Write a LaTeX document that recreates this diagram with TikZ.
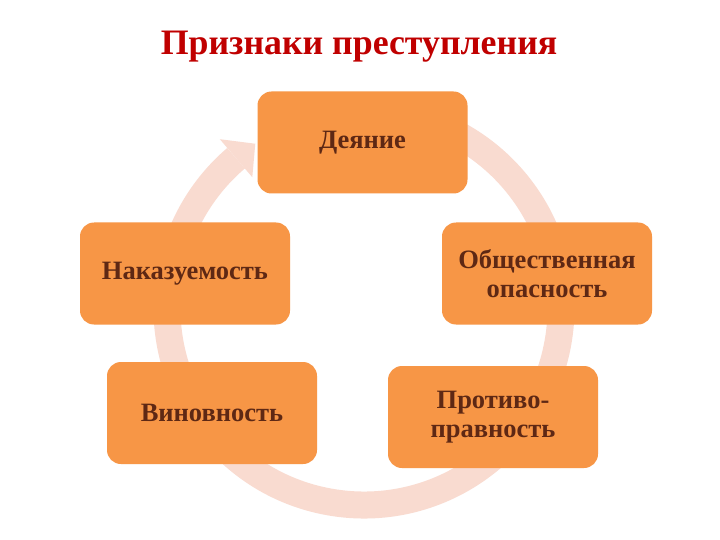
\documentclass[tikz,border=0pt]{standalone}
\usepackage{fontspec}
\setmainfont{Liberation Serif}
\definecolor{boxc}{HTML}{F79646}
\definecolor{ringc}{HTML}{F9DBD0}
\definecolor{txtc}{HTML}{5E2814}
\definecolor{titlec}{HTML}{C00000}
\begin{document}
\begin{tikzpicture}[x=1pt,y=-1pt,
  stagebox/.style={rounded corners=14pt, fill=boxc, minimum width=210pt, minimum height=102pt,
    font=\fontsize{26.5}{29}\selectfont\bfseries, text=txtc, align=center, inner sep=0pt}]
\useasboundingbox (0,0) rectangle (720,540);
\fill[white] (0,0) rectangle (720,540);
\node[font=\fontsize{35.8}{40}\selectfont\bfseries, text=titlec, anchor=base] (title) at (359,55) {Признаки преступления};
% ring
\begin{scope}[shift={(364,308)}]
  \draw[ringc, line width=27pt] (-80:197) arc[start angle=-80, end angle=229.5, radius=197];
  \fill[ringc] (229.5:222) -- (236.5:197) -- (229.5:172) -- cycle;
\end{scope}
\node[stagebox] (deed) at (362.5,142.5) {Деяние};
\node[stagebox] (danger) at (547,273.5) {Общественная\\опасность};
\node[stagebox] (wrong) at (493,417) {Противо-\\правность};
\node[stagebox] (guilt) at (212,413) {Виновность};
\node[stagebox] (punish) at (185,273.5) {Наказуемость};
\end{tikzpicture}
\end{document}
